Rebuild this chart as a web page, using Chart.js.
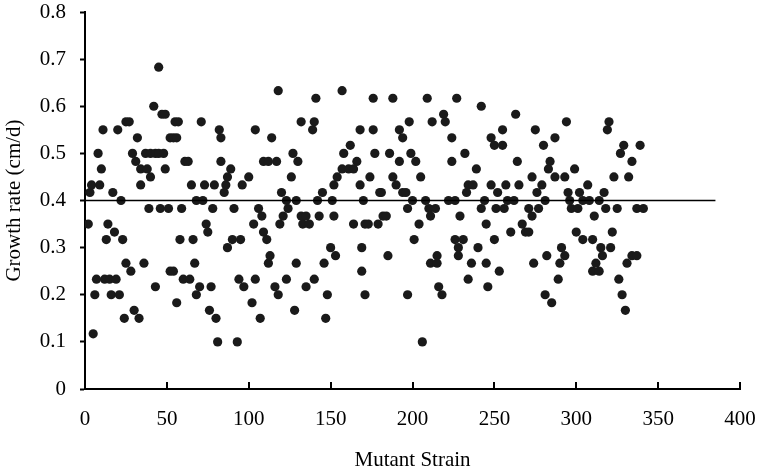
<!DOCTYPE html>
<html>
<head>
<meta charset="utf-8">
<script src="https://cdn.jsdelivr.net/npm/chart.js@4/dist/chart.umd.min.js"></script>
<style>
  html, body { margin: 0; padding: 0; background: #fff; }
  #wrap { width: 760px; height: 473px; }
</style>
</head>
<body>
<div id="wrap"><canvas id="chart" width="760" height="473"></canvas></div>
<script>
// mutant strain number and its growth rate (cm/d)
const strain = [
  2, 3, 4, 5, 6, 7, 8, 9, 10, 11, 12, 13, 14, 15, 16, 17, 18, 19, 20, 21,
  22, 23, 24, 25, 25, 27, 28, 29, 30, 31, 32, 33, 34, 34, 36, 37, 38, 39, 40, 40,
  42, 43, 43, 45, 45, 46, 47, 48, 49, 49, 51, 52, 52,
  54, 54, 55, 56, 56, 57, 58, 59, 60, 61, 63, 64, 65, 66, 67, 68, 68, 70, 71, 72,
  73, 74, 75, 76, 77, 78, 79, 80, 81, 82, 83, 83, 85, 86, 87, 87, 89, 90, 91, 93,
  94, 95, 96, 97, 100, 102, 103, 104, 104, 106, 107, 108, 109, 111, 112, 113,
  109, 112, 114, 116, 117, 118, 118, 119, 120, 121, 123, 123, 124, 126, 127, 128,
  129, 129, 130, 132, 132, 133, 135, 135, 137, 139, 140, 140, 141, 142, 143, 145,
  146, 147, 148, 150, 151, 152, 152, 153, 154, 157, 157, 158, 161, 162, 164, 164,
  166, 168, 168, 169, 169, 170, 171, 171,
  173, 174, 176, 176, 177, 179, 180, 181, 182, 184, 185, 186, 188, 188, 190, 192,
  192, 194, 194, 196, 197, 197, 198, 199, 200, 201, 202, 204, 205, 206, 208, 209,
  210, 211, 211, 212, 214, 215, 215, 216, 218, 219, 220, 222, 224, 224, 226, 226,
  227, 228, 228, 229,
  231, 232, 233, 234, 234, 236, 237, 239, 240, 242, 242, 244, 245, 245, 246, 248,
  248, 250, 250, 251, 252, 253, 255, 255, 256, 257, 258, 260, 262, 263, 264, 265,
  267, 269, 271, 271, 273, 273, 274, 275, 276, 277, 279, 280, 281, 281, 282, 283,
  284, 285, 287, 287,
  289, 290, 291, 293, 293, 294, 295, 296, 297, 299, 300, 301, 302, 304, 304, 307,
  308, 310, 310, 311, 312, 314, 314, 315, 316, 317, 318, 319, 320, 321, 322, 323,
  325, 326, 327, 328, 329, 330, 331, 332, 334, 334, 337, 337, 339, 341
];
const growthRate = [
  0.35, 0.417, 0.433, 0.117, 0.2, 0.233, 0.5, 0.433, 0.467, 0.55, 0.233, 0.317, 0.35, 0.233, 0.2, 0.417, 0.333, 0.233, 0.55, 0.2,
  0.4, 0.317, 0.15, 0.567, 0.267, 0.567, 0.25, 0.5, 0.167, 0.483, 0.533, 0.15, 0.467, 0.433, 0.267, 0.5, 0.467, 0.383, 0.5, 0.45,
  0.6, 0.5, 0.217, 0.683, 0.5, 0.383, 0.583, 0.5, 0.583, 0.467, 0.383, 0.533, 0.25,
  0.533, 0.25, 0.567, 0.533, 0.183, 0.567, 0.317, 0.383, 0.233, 0.483, 0.483, 0.233, 0.433, 0.317, 0.267, 0.4, 0.2, 0.217, 0.567, 0.4,
  0.433, 0.35, 0.333, 0.167, 0.217, 0.383, 0.433, 0.15, 0.1, 0.55, 0.533, 0.483, 0.417, 0.433, 0.45, 0.3, 0.467, 0.317, 0.383, 0.1,
  0.233, 0.317, 0.433, 0.217, 0.45, 0.183, 0.35, 0.55, 0.233, 0.383, 0.15, 0.367, 0.333, 0.317, 0.267, 0.283,
  0.483, 0.483, 0.533, 0.217, 0.483, 0.633, 0.2, 0.35, 0.417, 0.367, 0.4, 0.233, 0.383, 0.45, 0.5, 0.167,
  0.4, 0.267, 0.483, 0.567, 0.367, 0.35, 0.367, 0.217, 0.35, 0.55, 0.567, 0.233, 0.617, 0.4, 0.367, 0.417,
  0.267, 0.15, 0.2, 0.3, 0.4, 0.433, 0.367, 0.283, 0.45, 0.633, 0.467, 0.5, 0.467, 0.517, 0.467, 0.35,
  0.483, 0.55, 0.433, 0.3, 0.25, 0.4, 0.35, 0.2,
  0.35, 0.45, 0.617, 0.55, 0.5, 0.35, 0.417, 0.417, 0.367, 0.367, 0.283, 0.5, 0.617, 0.45, 0.433, 0.55,
  0.483, 0.533, 0.417, 0.417, 0.383, 0.2, 0.567, 0.5, 0.4, 0.317, 0.483, 0.35, 0.45, 0.1, 0.4, 0.617,
  0.383, 0.367, 0.267, 0.567, 0.383, 0.283, 0.267, 0.217, 0.2, 0.583, 0.567, 0.4, 0.533, 0.483, 0.4, 0.317,
  0.617, 0.3, 0.283, 0.367,
  0.317, 0.5, 0.417, 0.433, 0.233, 0.267, 0.433, 0.467, 0.3, 0.6, 0.383, 0.4, 0.35, 0.267, 0.217, 0.533,
  0.433, 0.517, 0.317, 0.383, 0.417, 0.25, 0.55, 0.517, 0.383, 0.433, 0.4, 0.333, 0.4, 0.583, 0.483, 0.433,
  0.35, 0.333, 0.383, 0.333, 0.45, 0.367, 0.267, 0.55, 0.417, 0.383, 0.433, 0.517, 0.4, 0.2, 0.283, 0.467,
  0.483, 0.183, 0.533, 0.45,
  0.233, 0.267, 0.3, 0.45, 0.283, 0.567, 0.417, 0.4, 0.383, 0.467, 0.333, 0.383, 0.417, 0.4, 0.317, 0.433,
  0.4, 0.317, 0.25, 0.367, 0.267, 0.4, 0.25, 0.3, 0.283, 0.417, 0.383, 0.55, 0.567, 0.3, 0.333, 0.45,
  0.383, 0.233, 0.5, 0.2, 0.517, 0.167, 0.267, 0.45, 0.483, 0.283, 0.383, 0.283, 0.517, 0.383
];
// horizontal reference line at 0.4
const refLineX = [0, 385];
const refLineY = 0.4;

const serif = "'Liberation Serif', 'Times New Roman', serif";
const font = { family: serif, size: 21 };

// x axis tick marks in Excel point inwards (up)
const innerTicks = {
  id: "innerTicks",
  afterDraw(chart) {
    const sx = chart.scales.x;
    const ctx = chart.ctx;
    ctx.save();
    ctx.strokeStyle = "#000";
    ctx.lineWidth = 2;
    sx.ticks.forEach((t) => {
      if (t.value === 0) return;
      const px = Math.round(sx.getPixelForValue(t.value));
      ctx.beginPath();
      ctx.moveTo(px, sx.top);
      ctx.lineTo(px, sx.top - 7);
      ctx.stroke();
    });
    ctx.restore();
  },
};

new Chart(document.getElementById("chart"), {
  type: "scatter",
  data: {
    datasets: [
      {
        type: "line",
        data: refLineX.map((x) => ({ x: x, y: refLineY })),
        borderColor: "#000",
        borderWidth: 1.5,
        pointRadius: 0,
        fill: false,
      },
      {
        data: strain.map((s, i) => ({ x: s, y: growthRate[i] })),
        backgroundColor: "#1a1a1a",
        borderWidth: 0,
        pointRadius: 4.6,
      },
    ],
  },
  options: {
    responsive: false,
    animation: false,
    devicePixelRatio: 1,
    layout: { autoPadding: false, padding: { top: 12, right: 20, left: 0, bottom: 0 } },
    plugins: { legend: { display: false }, tooltip: { enabled: false } },
    scales: {
      x: {
        type: "linear",
        min: 0,
        max: 400,
        afterFit: (s) => {
          s.height = 84;
          s.paddingLeft = 0;
          s.paddingRight = 0;
        },
        ticks: { stepSize: 50, color: "#000", font: font, padding: 18, maxRotation: 0 },
        grid: { display: true, drawOnChartArea: false, drawTicks: false },
        border: { color: "#000", width: 2 },
        title: { display: true, text: "Mutant Strain", color: "#000", font: font, padding: { top: 0, bottom: 0 } },
      },
      y: {
        min: 0,
        max: 0.8,
        afterFit: (s) => {
          s.width = 85;
          s.paddingTop = 0;
          s.paddingBottom = 0;
        },
        ticks: {
          stepSize: 0.1,
          color: "#000",
          font: font,
          padding: 14,
          callback: (v) => String(Number(v.toFixed(1))),
        },
        grid: { drawOnChartArea: false, tickLength: 5, tickColor: "#000", tickWidth: 2 },
        border: { color: "#000", width: 2 },
        title: { display: true, text: "Growth rate (cm/d)", color: "#000", font: font, padding: { top: 2, bottom: 0 } },
      },
    },
  },
  plugins: [innerTicks],
});
</script>
</body>
</html>
